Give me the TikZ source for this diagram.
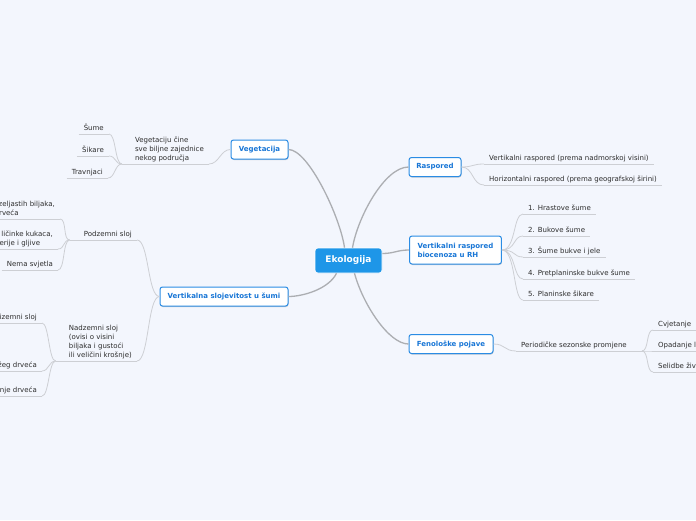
\documentclass[tikz,border=0pt]{standalone}
\usepackage{fontspec}
\setmainfont{DejaVu Sans}
\usetikzlibrary{shadows}
\definecolor{PageTint}{RGB}{243,246,253}
\definecolor{CentreBlue}{RGB}{30,150,232}
\definecolor{TopicBlue}{RGB}{42,140,228}
\definecolor{TopicText}{RGB}{24,118,214}
\definecolor{LeafText}{RGB}{45,45,45}
\definecolor{LinkGray}{RGB}{205,207,212}
\definecolor{TrunkGray}{RGB}{172,174,178}
\newcommand{\leaffont}{\fontsize{7}{8.8}\selectfont}
\newcommand{\topicfont}{\fontsize{7}{8.8}\selectfont\bfseries}
\newcommand{\centrefont}{\fontsize{9}{11}\selectfont\bfseries}
\tikzset{
  trunk/.style={draw=TrunkGray,line width=1.3pt},
  link/.style={draw=LinkGray,line width=0.8pt},
  centre/.style={fill=CentreBlue,draw=white,line width=0.6pt,rounded corners=3pt,
    text=white,font=\centrefont,minimum width=67pt,minimum height=25pt,inner sep=0pt},
  topic/.style={draw=TopicBlue,fill=white,line width=1pt,rounded corners=2.5pt,
    text=TopicText,font=\topicfont,minimum height=19pt,inner xsep=6pt,inner ysep=0pt,
    drop shadow={shadow xshift=0.5pt,shadow yshift=-1pt,fill=black,opacity=0.18}},
  leaf/.style={font=\leaffont,text=LeafText,inner xsep=5pt,inner ysep=2.2pt,text depth=1.5pt},
  leafm/.style={font=\leaffont,text=LeafText,inner xsep=5pt,inner ysep=2.2pt,align=left}
}

\begin{document}
\begin{tikzpicture}[x=1pt,y=-1pt]
  \useasboundingbox (0,0) rectangle (696,520);
  \fill[PageTint] (0,0) rectangle (696,520);

  \node[centre] (eko) at (348.5,260.5) {Ekologija};
  \node[topic,minimum width=57pt] (veg) at (259.5,149.5) {Vegetacija};
  \node[topic,minimum width=128pt] (slo) at (224,296.5) {Vertikalna slojevitost u šumi};
  \node[topic,minimum width=52pt] (ras) at (435,167) {Raspored};
  \node[topic,anchor=west,align=left,minimum height=28pt,inner xsep=8pt] (vrb) at (409,250) {Vertikalni raspored\\biocenoza u RH};
  \node[topic,minimum width=84pt] (fen) at (451,344) {Fenološke pojave};

  \draw[trunk] ([xshift=-4pt]eko.north) .. controls +(-4,-30) and +(20,0) .. (veg.east);
  \draw[trunk] ([xshift=4pt]eko.north) .. controls +(5,-30) and +(-24,0) .. (ras.west);
  \draw[trunk] ([yshift=7pt]eko.east) .. controls +(12,0) and +(-12,0) .. (vrb.west);
  \draw[trunk] ([xshift=6pt]eko.south) .. controls +(8,30) and +(-20,0) .. (fen.west);
  \draw[trunk] ([xshift=-12pt]eko.south) .. controls +(-8,16) and +(14,0) .. (slo.east);

  \node[leafm,anchor=south east] (vegc) at (209,164) {Vegetaciju čine\\sve biljne zajednice\\nekog područja};
  \node[leaf,anchor=south east] (sume) at (109,134) {Šume};
  \node[leaf,anchor=south east] (sika) at (109,156) {Šikare};
  \node[leaf,anchor=south east] (trav) at (108,178) {Travnjaci};

  \node[leaf,anchor=south east] (pod) at (137,240) {Podzemni sloj};
  \node[leafm,anchor=south east] (kor) at (60,219) {Korijenje zeljastih biljaka,\\grmlja i drveća};
  \node[leafm,anchor=south east] (ziv) at (58,249) {Žive ličinke kukaca,\\bakterije i gljive};
  \node[leaf,anchor=south east] (nema) at (58,270) {Nema svjetla};
  \node[leafm,anchor=south east] (nad) at (137,361) {Nadzemni sloj\\(ovisi o visini\\biljaka i gustoći\\ili veličini krošnje)};
  \node[leaf,anchor=south east] (priz) at (42,323) {Prizemni sloj};
  \node[leaf,anchor=south east] (niz) at (42,371) {Sloj nižeg drveća};
  \node[leaf,anchor=south east] (kros) at (42,396) {Sloj krošnje drveća};

  \node[leaf,anchor=south west] (vis) at (484,164) {Vertikalni raspored (prema nadmorskoj visini)};
  \node[leaf,anchor=south west] (sir) at (484,185) {Horizontalni raspored (prema geografskoj širini)};

  \node[leaf,anchor=south west] (hra) at (523,214) {1. Hrastove šume};
  \node[leaf,anchor=south west] (buk) at (523,236) {2. Bukove šume};
  \node[leaf,anchor=south west] (jel) at (523,257) {3. Šume bukve i jele};
  \node[leaf,anchor=south west] (pre) at (523,279) {4. Pretplaninske bukve šume};
  \node[leaf,anchor=south west] (pla) at (523,300) {5. Planinske šikare};

  \node[leaf,anchor=south west] (per) at (516,351) {Periodičke sezonske promjene};
  \node[leaf,anchor=south west] (cvj) at (653,330) {Cvjetanje};
  \node[leaf,anchor=south west] (opa) at (653,351) {Opadanje lišća};
  \node[leaf,anchor=south west] (sel) at (653,372) {Selidbe životinja};

  \coordinate (vegcj) at ([xshift=-8pt]vegc.south west);
  \coordinate (podj) at ([xshift=-9pt]pod.south west);
  \coordinate (nadj) at ([xshift=-8pt]nad.south west);
  \coordinate (perj) at ([xshift=10pt]per.south east);

  \foreach \n in {sume,sika,trav,kor,ziv,nema,priz,niz,kros,vis,sir,hra,buk,jel,pre,pla,cvj,opa,sel}
    \draw[link] (\n.south west) -- (\n.south east);
  \draw[link] (vegcj) -- (vegc.south east);
  \draw[link] (podj) -- (pod.south east);
  \draw[link] (nadj) -- (nad.south east);
  \draw[link] (per.south west) -- (perj);

  \draw[link] (veg.west) .. controls +(-10,0) and +(10,0) .. (vegc.south east);
  \foreach \n in {sume,sika,trav}
    \draw[link] (vegcj) .. controls +(-7,0) and +(7,0) .. (\n.south east);
  \draw[link] (slo.west) .. controls +(-12,0) and +(12,0) .. (pod.south east);
  \draw[link] (slo.west) .. controls +(-12,0) and +(12,0) .. (nad.south east);
  \foreach \n in {kor,ziv,nema}
    \draw[link] (podj) .. controls +(-7,0) and +(7,0) .. (\n.south east);
  \foreach \n in {priz,niz,kros}
    \draw[link] (nadj) .. controls +(-7,0) and +(7,0) .. (\n.south east);
  \foreach \n in {vis,sir}
    \draw[link] (ras.east) .. controls +(12,0) and +(-12,0) .. (\n.south west);
  \foreach \n in {hra,buk,jel,pre,pla}
    \draw[link] (vrb.east) .. controls +(14,0) and +(-10,0) .. (\n.south west);
  \draw[link] (fen.east) .. controls +(12,0) and +(-12,0) .. (per.south west);
  \foreach \n in {cvj,opa,sel}
    \draw[link] (perj) .. controls +(7,0) and +(-7,0) .. (\n.south west);
\end{tikzpicture}
\end{document}
